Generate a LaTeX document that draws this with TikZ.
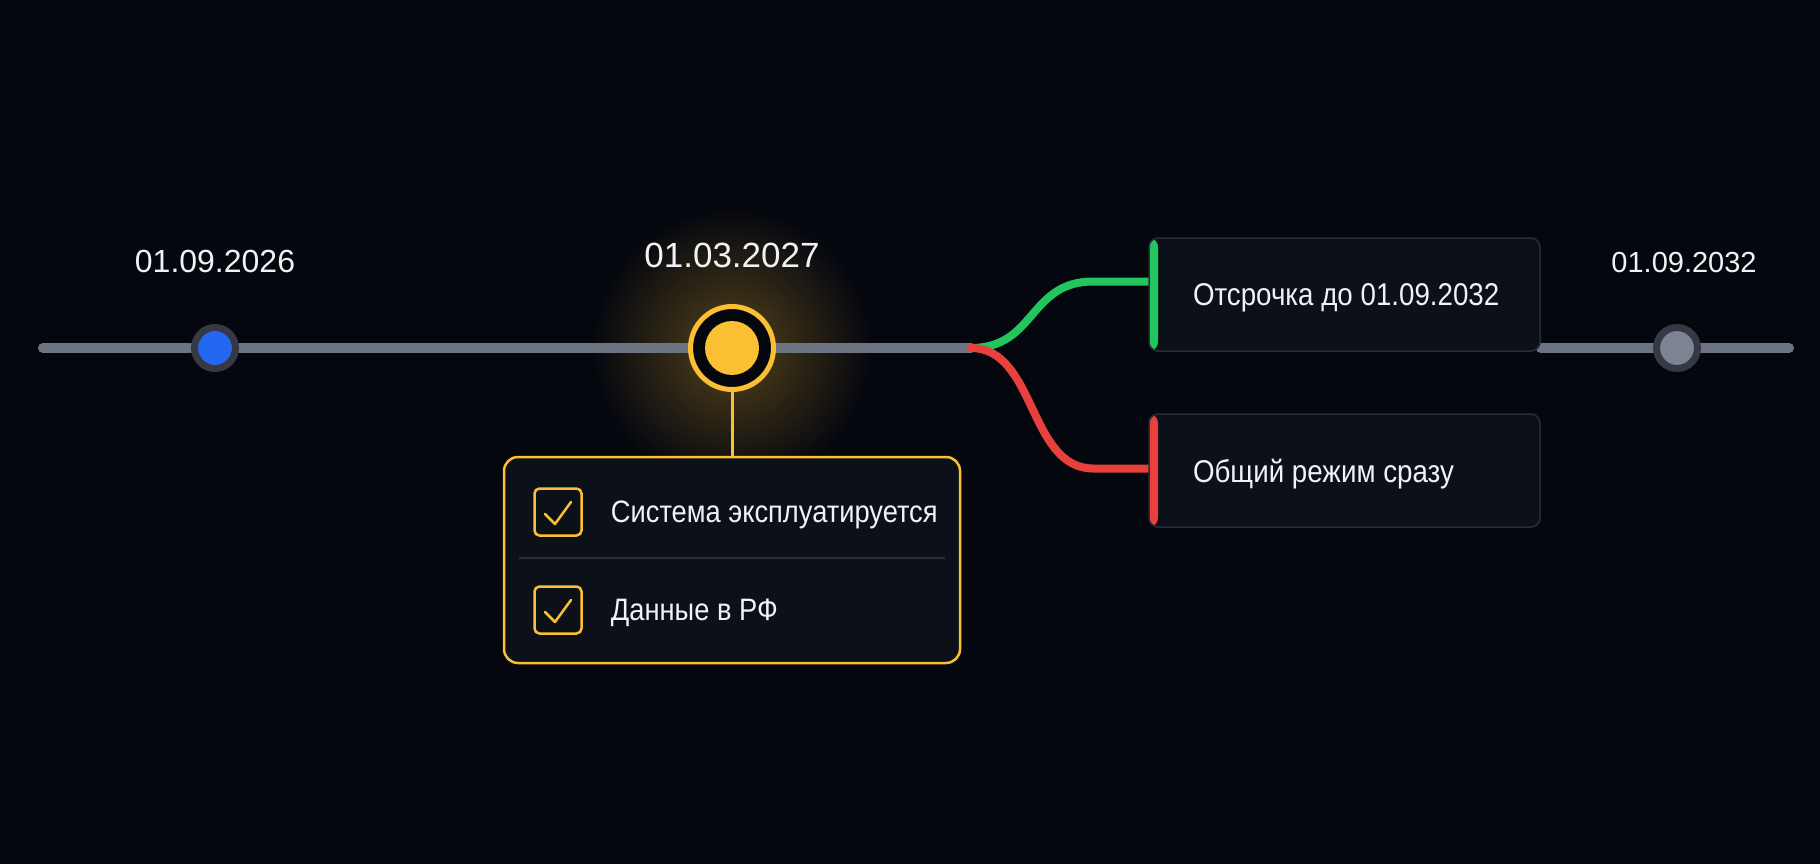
\documentclass[tikz,border=0pt]{standalone}
\usepackage{fontspec}
\setmainfont{Liberation Sans}
\newfontfamily\narrowfont[FakeStretch=0.88]{Liberation Sans}
\usetikzlibrary{positioning, calc}

\definecolor{bgnavy}{RGB}{5,7,15}
\definecolor{panel}{RGB}{12,16,25}
\definecolor{rimgray}{RGB}{40,45,56}
\definecolor{trackgray}{RGB}{110,117,130}
\definecolor{amber}{RGB}{250,192,50}
\definecolor{dotblue}{RGB}{36,104,242}
\definecolor{ringgray}{RGB}{52,57,68}
\definecolor{dotgray}{RGB}{125,133,148}
\definecolor{okgreen}{RGB}{34,197,94}
\definecolor{nored}{RGB}{232,64,60}
\definecolor{txt}{RGB}{240,242,245}

\pgfdeclarelayer{bg}
\pgfdeclarelayer{wires}
\pgfsetlayers{bg,wires,main}

\tikzset{
  timeline/.style={line width=10pt, line cap=round, draw=trackgray},
  dot/.style={circle, inner sep=0, minimum size=41pt, line width=7pt, draw=ringgray, fill=#1},
  datelabel/.style={text=txt, inner sep=0, font=\fontsize{32}{36}\selectfont},
  optbox/.style={rectangle, rounded corners=9pt, draw=rimgray, line width=1.5pt, fill=panel,
    minimum height=113pt, minimum width=391pt, inner xsep=44pt, text=txt, text depth=0pt,
    font=\narrowfont\fontsize{31.5}{36}\selectfont,
    path picture={\fill[#1] (path picture bounding box.north west) rectangle ([xshift=9pt]path picture bounding box.south west);}},
  branch/.style={line width=8pt, line cap=round, draw=#1},
  tickbox/.style={rectangle, rounded corners=5pt, draw=amber, line width=2.5pt, minimum size=47pt, inner sep=0},
  checkmark/.style={amber, line width=2.5pt, line cap=round, line join=round},
  itemtext/.style={text=txt, inner sep=0, text depth=0pt, font=\narrowfont\fontsize{31}{36}\selectfont},
}

\begin{document}
\begin{tikzpicture}[x=1pt, y=-1pt]

\begin{pgfonlayer}{bg}
\fill[bgnavy] (0,0) rectangle (1820,864);
\shade[inner color=amber!32!bgnavy, outer color=bgnavy] (732,348) circle (140pt);
\end{pgfonlayer}

% dates on the track
\node[dot=dotblue] (d26) at (215,348) {};
\node[datelabel, above=51pt of d26] (l26) {01.09.2026};

\node[circle, inner sep=0, minimum size=83pt, draw=amber, line width=5pt, fill=bgnavy] (d27) at (732,348) {};
\fill[amber] (d27.center) circle (27pt);
\node[datelabel, font=\fontsize{35}{40}\selectfont, above=36pt of d27] (l27) {01.03.2027};

\node[dot=dotgray] (d32) at (1677,348) {};
\node[datelabel, font=\fontsize{29}{34}\selectfont, above=51pt of d32, xshift=7pt] (l32) {01.09.2032};

% two outcomes
\node[optbox=okgreen] (o1) at (1344.5,294.5) {\makebox[303pt][l]{Отсрочка до 01.09.2032}};
\node[optbox=nored] (o2) at (1344.5,470.5) {\makebox[303pt][l]{Общий режим сразу}};

% conditions
\node[rectangle, rounded corners=14pt, draw=amber, line width=2.5pt, fill=panel,
  minimum width=456pt, minimum height=206pt] (chk) at (732,560) {};
\draw[rimgray, line width=1.5pt] (519,558) -- (945,558);
\node[tickbox] (t1) at (558,512) {};
\node[tickbox] (t2) at (558,610) {};
\foreach \t in {t1,t2}
  \draw[checkmark] ([shift={(-13,2)}]\t.center) -- ([shift={(-3,12)}]\t.center) -- ([shift={(13,-10)}]\t.center);
\node[itemtext, right=28pt of t1] (c1) {Система эксплуатируется};
\node[itemtext, right=28pt of t2] (c2) {Данные в РФ};

\begin{pgfonlayer}{wires}
\coordinate (start) at (43,348);
\coordinate (br) at (971,348);
\coordinate (fin) at (1789,348);
\draw[timeline] (start) -- (br);
\draw[timeline] (o1.south east |- fin) -- (fin);
\draw[branch=okgreen] (br) .. controls +(65,0) and +(-65,0) .. ([xshift=-55pt,yshift=13pt]o1.west) -- ([yshift=13pt]o1.west);
\draw[branch=nored] (br) .. controls +(65,0) and +(-65,0) .. ([xshift=-55pt,yshift=2pt]o2.west) -- ([yshift=2pt]o2.west);
\draw[amber, line width=3pt] (d27.south) -- (chk.north);
\end{pgfonlayer}

\end{tikzpicture}
\end{document}
